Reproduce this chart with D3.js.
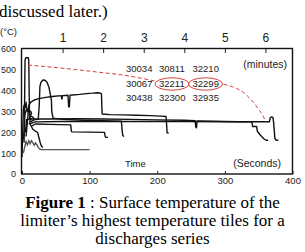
<!DOCTYPE html>
<html>
<head>
<meta charset="utf-8">
<script src="https://cdn.jsdelivr.net/npm/d3@7"></script>
<style>
  body { margin: 0; background: #fff; }
  svg { display: block; }
  .ax text { font-family: "Liberation Sans", Arial, sans-serif; fill: #222; }
  .ax line { stroke: #222; }
  .ax path { display: none; }
</style>
</head>
<body>
<svg id="chart"></svg>
<script>
// tick values
var secondTicks = [0, 100, 200, 300, 400];
var minuteTicks = [1, 2, 3, 4, 5, 6];
var tempTicks = [0, 100, 200, 300, 400, 500, 600];

// shot numbers in the legend block
var shotRows = [
    ["30034", "30811", "32210"],
    ["30067", "32211", "32299"],
    ["30438", "32300", "32935"]
];
var circledShots = ["32211", "32299"];

// traces: [time (s), temperature (°C)]
var shotSpike = [[0,150],[2,175],[3.5,210],[4,400],[4.5,545],[5.5,558],[9.5,558],[10,540],[10.5,420],[11,300],[12,270],[14,262]];
var shotHump = [[12,250],[18,260],[24,262],[25.5,330],[26.5,420],[28,440],[31,451],[34,450],[37,440],[40,415],[42,380],[43.5,355],[44,300],[46,268],[60,262],[90,258],[120,256],[147,254],[148,210],[149,185],[151,180]];
var shotPlateau = [[6,180],[8,250],[10,330],[13,345],[18,355],[25,362],[35,368],[45,372],[58,376],[59,360],[60,376],[68,378],[69,322],[70,322],[71,378],[85,382],[95,386],[105,388],[112,390],[116,388],[117.5,385],[118,330],[118.5,288],[130,285],[150,284],[170,282],[190,280],[205,278],[213,276],[214,230],[214.5,198],[217,196]];
var shotLong = [[5,200],[7,262],[15,264],[40,264],[80,265],[120,264],[160,262],[200,260],[240,258],[256,256],[257,225],[258,222],[259,255],[280,254],[300,252],[320,251],[340,250],[341,228],[347,228],[348,205],[353,185],[358,168],[361,162],[364,162]];
var shotLate = [[10,240],[20,250],[60,252],[120,252],[180,252],[240,252],[300,251],[345,251],[366,251],[367,270],[369,274],[371,272],[372,250],[374,170],[376,162],[379,162]];
var shotStep = [[14,230],[20,240],[40,238],[72,236],[73,205],[74,202],[100,201],[122,200],[123,180],[124,176],[127,176]];
var shotWiggle = [[0,80],[1,200],[2,310],[3,330],[5,320],[6,345],[7,310],[8,300],[10,320],[11,290],[12,240],[16,215],[20,205],[23,200],[25,175],[27,150],[29,132],[31,128]];
var shotLoop = [[3,150],[4,280],[6,305],[9,310],[11,305],[13,300],[14,290],[12,280],[15,275],[17,270],[18,262]];
var shotLow = [[2,100],[4,130],[6,155],[8,140],[10,160],[12,145],[14,160],[16,150],[18,138],[20,150],[22,140],[24,128],[26,120],[28,117],[60,117],[100,117]];

// red dashed peak trend, split around the circled labels
var peakTrendLeft = [[9,523],[53,510],[123,485],[149,475],[197,446]];
var peakTrendRight = [[298,430],[303,427],[317,411],[322,403],[332,379],[337,363],[349,315],[357,275],[361,246]];

var W = 305, H = 252;
var svg = d3.select("#chart").attr("width", W).attr("height", H);

var x = d3.scaleLinear().domain([0, 400]).range([22, 292.5]);
var xMin = d3.scaleLinear().domain([0, 400 / 60]).range([22, 292.5]);
var y = d3.scaleLinear().domain([0, 600]).range([174, 49]);

var red = "#d8413d";

// frame
svg.append("rect")
    .attr("x", x(0) - 0.5)
    .attr("y", y(600) - 0.5)
    .attr("width", x(400) - x(0) + 0.5)
    .attr("height", y(0) - y(600) + 0.5)
    .attr("fill", "none")
    .attr("stroke", "#111")
    .attr("stroke-width", 1.4);

// axes
svg.append("g").attr("class", "ax")
    .attr("transform", "translate(0," + y(0) + ")")
    .call(d3.axisBottom(x).tickValues(secondTicks).tickSize(-3).tickPadding(3))
    .selectAll("text").style("font-size", "9.5px");

svg.append("g").attr("class", "ax")
    .attr("transform", "translate(0," + y(600) + ")")
    .call(d3.axisTop(xMin).tickValues(minuteTicks).tickFormat(d3.format("d")).tickSize(-4).tickPadding(7.5))
    .selectAll("text").style("font-size", "12px");

svg.append("g").attr("class", "ax")
    .attr("transform", "translate(" + x(0) + ",0)")
    .call(d3.axisLeft(y).tickValues(tempTicks).tickSize(0).tickPadding(6))
    .selectAll("text").style("font-size", "9px");

// traces
var line = d3.line().x(function (d) {return x(d[0]);}).y(function (d) {return y(d[1]);});
var traces = [shotLong, shotLate, shotStep, shotHump, shotPlateau, shotSpike, shotWiggle, shotLoop];

svg.selectAll("path.shot").data(traces).enter()
    .append("path")
    .attr("class", "shot")
    .attr("d", line)
    .attr("fill", "none")
    .attr("stroke", "#111")
    .attr("stroke-width", 1.4)
    .attr("stroke-linejoin", "round");

svg.append("path")
    .attr("d", line(shotLow))
    .attr("fill", "none")
    .attr("stroke", "#555")
    .attr("stroke-width", 1.4);

// peak trend
var trend = d3.line().curve(d3.curveMonotoneX)
    .x(function (d) {return x(d[0]);}).y(function (d) {return y(d[1]);});
svg.selectAll("path.trend").data([peakTrendLeft, peakTrendRight]).enter()
    .append("path")
    .attr("class", "trend")
    .attr("d", trend)
    .attr("fill", "none")
    .attr("stroke", red)
    .attr("stroke-width", 1)
    .attr("stroke-dasharray", "4,2.5");

// shot number block
var colX = [126, 159, 192.5];
var rowY = [72, 86.5, 100.5];
shotRows.forEach(function (row, r) {
    row.forEach(function (s, c) {
        svg.append("text")
            .attr("x", colX[c]).attr("y", rowY[r])
            .style("font-family", "Liberation Sans, Arial, sans-serif")
            .style("font-size", "9.5px")
            .attr("fill", "#222")
            .text(s);
        if (circledShots.indexOf(s) >= 0) {
            svg.append("ellipse")
                .attr("cx", colX[c] + 13).attr("cy", rowY[r] - 2.5)
                .attr("rx", 17).attr("ry", 6.2)
                .attr("fill", "none")
                .attr("stroke", red)
                .attr("stroke-width", 1);
        }
    });
});

// unit labels
function label(tx, ty, str, size, anchor) {
    svg.append("text")
        .attr("x", tx).attr("y", ty)
        .attr("text-anchor", anchor || "start")
        .style("font-family", "Liberation Sans, Arial, sans-serif")
        .style("font-size", size + "px")
        .attr("fill", "#222")
        .text(str);
}
label(0, 35, "(°C)", 9.5);
label(287, 67.5, "(minutes)", 10.5, "end");
label(125, 166.5, "Time", 9.5);
label(281, 166.5, "(Seconds)", 10.5, "end");

// surrounding paper text
var serif = "Liberation Serif, Times New Roman, serif";
svg.append("text")
    .attr("x", -1).attr("y", 17)
    .style("font-family", serif).style("font-size", "17px")
    .text("discussed later.)");

var capLines = [208, 226, 244];
var cap = svg.append("text")
    .attr("x", W / 2).attr("y", capLines[0])
    .attr("text-anchor", "middle")
    .style("font-family", serif).style("font-size", "17px");
cap.append("tspan").style("font-weight", "bold").text("Figure 1");
cap.append("tspan").text(" : Surface temperature of the");

svg.append("text")
    .attr("x", W / 2).attr("y", capLines[1])
    .attr("text-anchor", "middle")
    .style("font-family", serif).style("font-size", "17px")
    .text("limiter’s highest temperature tiles for a");

svg.append("text")
    .attr("x", W / 2).attr("y", capLines[2])
    .attr("text-anchor", "middle")
    .style("font-family", serif).style("font-size", "17px")
    .text("discharges series");
</script>
</body>
</html>
